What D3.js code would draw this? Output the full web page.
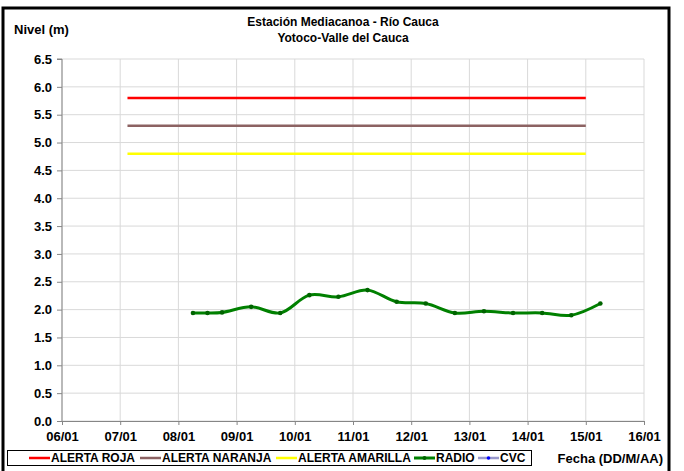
<!DOCTYPE html>
<html lang="es">
<head>
<meta charset="UTF-8">
<title>Estación Mediacanoa</title>
<script src="https://d3js.org/d3.v7.min.js"></script>
<style>
  body { margin: 0; background: #fff; }
  text { font-family: "Liberation Sans", Arial, sans-serif; font-weight: bold; fill: #000; }
</style>
</head>
<body>
<svg class="chart"></svg>
<script>
const W = 684, H = 471

// datos
const xTicks = ["06/01", "07/01", "08/01", "09/01", "10/01", "11/01", "12/01", "13/01", "14/01", "15/01", "16/01"]
const yTicks = [0, 0.5, 1, 1.5, 2, 2.5, 3, 3.5, 4, 4.5, 5, 5.5, 6, 6.5]
const alertNames = ["ALERTA ROJA", "ALERTA NARANJA", "ALERTA AMARILLA"]
const alertValues = [5.8, 5.3, 4.8]
const alertColors = ["#ff0000", "#8c6262", "#ffff00"]
const alertSpan = ["2011-01-07 03:00", "2011-01-15 00:00"]
const radioTimes = ["2011-01-08 06:00", "2011-01-08 12:00", "2011-01-08 18:00", "2011-01-09 06:00",
  "2011-01-09 18:00", "2011-01-10 06:00", "2011-01-10 18:00", "2011-01-11 06:00", "2011-01-11 18:00",
  "2011-01-12 06:00", "2011-01-12 18:00", "2011-01-13 06:00", "2011-01-13 18:00", "2011-01-14 06:00",
  "2011-01-14 18:00", "2011-01-15 06:00"]
const radioValues = [1.94, 1.94, 1.95, 2.05, 1.94, 2.26, 2.23, 2.35, 2.14, 2.11, 1.94, 1.97, 1.94, 1.94, 1.90, 2.11]

const parse = d3.timeParse("%Y-%m-%d %H:%M")
const parseDay = d3.timeParse("%d/%m/%Y")

const svg = d3.select(".chart").attr("width", W).attr("height", H)

const x = d3.scaleTime()
  .domain([parseDay(xTicks[0] + "/2011"), parseDay(xTicks[xTicks.length - 1] + "/2011")])
  .range([62, 644])
const y = d3.scaleLinear().domain([0, 6.5]).range([421, 59])

// marco
svg.append("rect").attr("x", 3).attr("y", 8).attr("width", 666).attr("height", 470)
  .attr("fill", "none").attr("stroke", "#000").attr("stroke-width", 3)

// cuadricula
const grid = svg.append("g")
grid.selectAll(".gy").data(yTicks).join("line")
  .attr("x1", x.range()[0]).attr("x2", x.range()[1])
  .attr("y1", d => y(d)).attr("y2", d => y(d))
  .attr("stroke", "#d9d9d9").attr("stroke-width", 1)
grid.selectAll(".gx").data(xTicks).join("line")
  .attr("x1", d => x(parseDay(d + "/2011"))).attr("x2", d => x(parseDay(d + "/2011")))
  .attr("y1", y(0)).attr("y2", y(6.5))
  .attr("stroke", "#d9d9d9").attr("stroke-width", 1)

// ejes
const yAxis = d3.axisLeft(y).tickValues(yTicks).tickFormat(d3.format(".1f")).tickSize(5).tickPadding(5)
const gy = svg.append("g").attr("transform", `translate(${x.range()[0]},0)`).call(yAxis)
const xAxis = d3.axisBottom(x).tickValues(xTicks.map(d => parseDay(d + "/2011")))
  .tickFormat(d3.timeFormat("%d/%m")).tickSize(4).tickPadding(7)
const gx = svg.append("g").attr("transform", `translate(0,${y(0)})`).call(xAxis)
;[gx, gy].forEach(g => {
  g.select(".domain").attr("stroke", "#868686")
  g.selectAll(".tick line").attr("stroke", "#868686")
  g.selectAll(".tick text").attr("font-size", 13)
    .style("font-family", "'Liberation Sans', Arial, sans-serif").style("font-weight", "bold")
})
gy.select(".domain").attr("d", `M-5,${y(6.5)}H0V${y(0)}`)

// lineas de alerta
svg.append("g").selectAll("line").data(alertValues).join("line")
  .attr("x1", x(parse(alertSpan[0]))).attr("x2", x(parse(alertSpan[1])))
  .attr("y1", d => y(d)).attr("y2", d => y(d))
  .attr("stroke", (d, i) => alertColors[i]).attr("stroke-width", 2.5)

// serie radio
const radio = radioTimes.map((t, i) => ({ t: parse(t), v: radioValues[i] }))
svg.append("path").datum(radio)
  .attr("d", d3.line().x(d => x(d.t)).y(d => y(d.v)).curve(d3.curveCatmullRom.alpha(0.5)))
  .attr("fill", "none").attr("stroke", "#008000").attr("stroke-width", 3)
svg.append("g").selectAll("circle").data(radio).join("circle")
  .attr("cx", d => x(d.t)).attr("cy", d => y(d.v)).attr("r", 2.3)
  .attr("fill", "#006400")

// titulos
svg.append("text").attr("x", 343).attr("y", 26).attr("text-anchor", "middle").attr("font-size", 12)
  .text("Estación Mediacanoa - Río Cauca")
svg.append("text").attr("x", 343).attr("y", 42).attr("text-anchor", "middle").attr("font-size", 12)
  .text("Yotoco-Valle del Cauca")
svg.append("text").attr("x", 14).attr("y", 34).attr("font-size", 13).text("Nivel (m)")
svg.append("text").attr("x", 663).attr("y", 463).attr("text-anchor", "end").attr("font-size", 13)
  .text("Fecha (DD/M/AA)")

// leyenda
const legNames = alertNames.concat(["RADIO", "CVC"])
const legColors = alertColors.concat(["#008000", "#9999cc"])
const legX = [29, 140, 276, 414, 478]
const leg = svg.append("g")
leg.append("rect").attr("x", 7.5).attr("y", 450.5).attr("width", 524).attr("height", 15)
  .attr("fill", "#fff").attr("stroke", "#000").attr("stroke-width", 1)
legNames.forEach((n, i) => {
  const lx = legX[i], ly = 458
  const lw = 21
  leg.append("line").attr("x1", lx).attr("x2", lx + lw).attr("y1", ly).attr("y2", ly)
    .attr("stroke", legColors[i]).attr("stroke-width", i === 3 ? 3 : 2.5)
  if (i === 3) leg.append("circle").attr("cx", lx + lw / 2).attr("cy", ly).attr("r", 2).attr("fill", "#006400")
  if (i === 4) leg.append("circle").attr("cx", lx + lw / 2).attr("cy", ly).attr("r", 1.8).attr("fill", "#0000ff")
  leg.append("text").attr("x", lx + lw + 1).attr("y", ly + 4).attr("font-size", 12).text(n)
})
</script>
</body>
</html>
